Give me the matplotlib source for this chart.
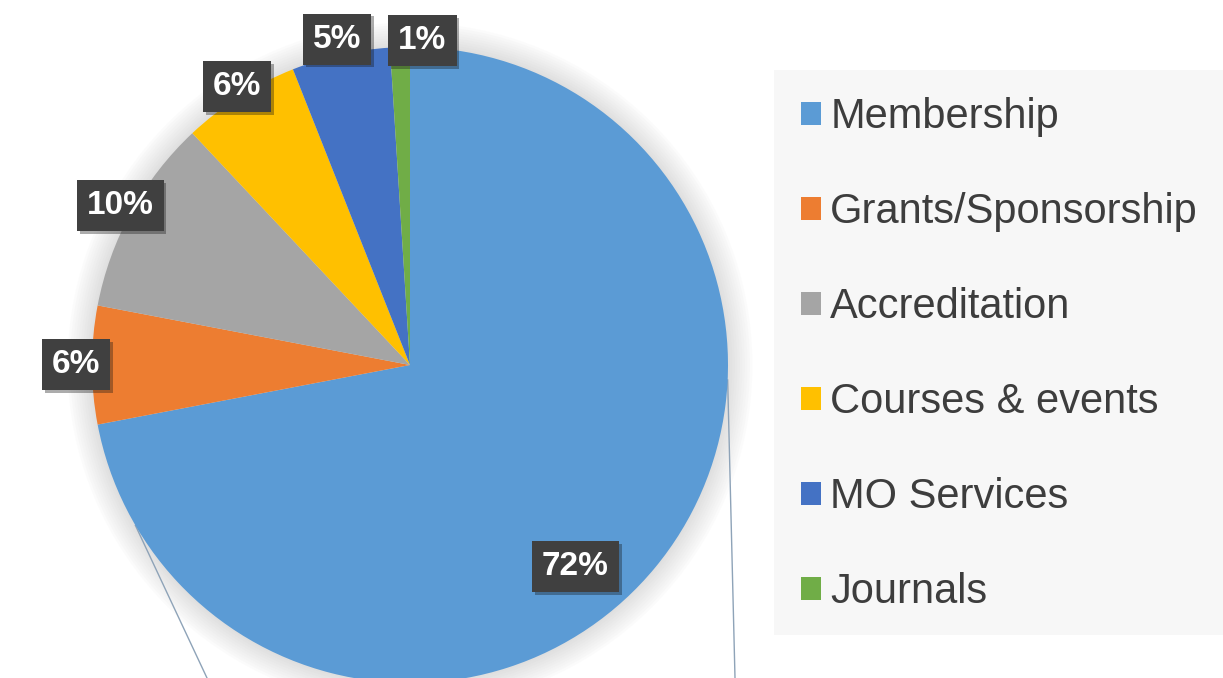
import numpy as np
import matplotlib.pyplot as plt
from matplotlib.patches import Patch, Rectangle, Circle
import matplotlib.patheffects as pe

plt.rcParams["font.family"] = ["Liberation Sans", "DejaVu Sans"]

categories = ["Membership", "Grants/Sponsorship", "Accreditation",
              "Courses & events", "MO Services", "Journals"]
shares = [72, 6, 10, 6, 5, 1]
colors = ["#5B9BD5", "#ED7D31", "#A5A5A5", "#FFC000", "#4472C4", "#70AD47"]

# label placement tweaks (fraction of radius, angle shift in degrees)
label_r = [0.82, 1.05, 1.04, 1.03, 1.05, 1.02]
label_shift = [-11, 0, 0, -0.5, 0, -4]

W, H = 1223, 678
center = (410, H - 365)
radius = 318

fig = plt.figure(figsize=(W / 100, H / 100), dpi=100)
ax = fig.add_axes([0, 0, 1, 1])

# soft glow round the pie
for k in range(10):
    ax.add_patch(Circle(center, radius + 2 + 2.5 * k, color="#9a9a9a",
                        alpha=0.03, lw=0, zorder=0))

wedges, _ = ax.pie(shares, colors=colors, startangle=90, counterclock=False,
                   center=center, radius=radius,
                   wedgeprops=dict(linewidth=0))
for w in wedges:
    w.set_zorder(2)

for w, val, rf, sh in zip(wedges, shares, label_r, label_shift):
    mid = np.deg2rad((w.theta1 + w.theta2) / 2 + sh)
    x = center[0] + radius * rf * np.cos(mid)
    y = center[1] + radius * rf * np.sin(mid)
    ax.text(x, y, f"{val}%", ha="center", va="center", fontsize=24,
            fontweight="bold", color="white", zorder=5,
            bbox=dict(boxstyle="square,pad=0.3", fc="#404040", ec="none",
                      path_effects=[pe.withSimplePatchShadow(offset=(2, -2),
                                                             alpha=0.35)]))

# connector lines towards the secondary chart below
for ang, x_end in [(-149.7, 207), (-2.7, 735)]:
    a = np.deg2rad(ang)
    x0 = center[0] + radius * np.cos(a)
    y0 = center[1] + radius * np.sin(a)
    ax.plot([x0, x_end], [y0, 0], color="#8ea3b8", lw=1, zorder=1)

ax.set_xlim(0, W)
ax.set_ylim(0, H)
ax.set_aspect("equal")
ax.axis("off")

# legend panel
fig.patches.append(Rectangle((774 / W, 1 - 635 / H), (W - 774) / W,
                             (635 - 70) / H, transform=fig.transFigure,
                             fc="#f7f7f7", ec="none", zorder=0))
handles = [Patch(fc=c, ec="none") for c in colors]
fig.legend(handles, categories, loc="upper left",
           bbox_to_anchor=(801 / W, 1 - 97 / H), frameon=False,
           fontsize=30, labelcolor="#3d3d3d", handlelength=0.48,
           handleheight=0.48, handletextpad=0.22, labelspacing=1.32,
           borderpad=0, borderaxespad=0)

fig.savefig("out.png", dpi=100)
